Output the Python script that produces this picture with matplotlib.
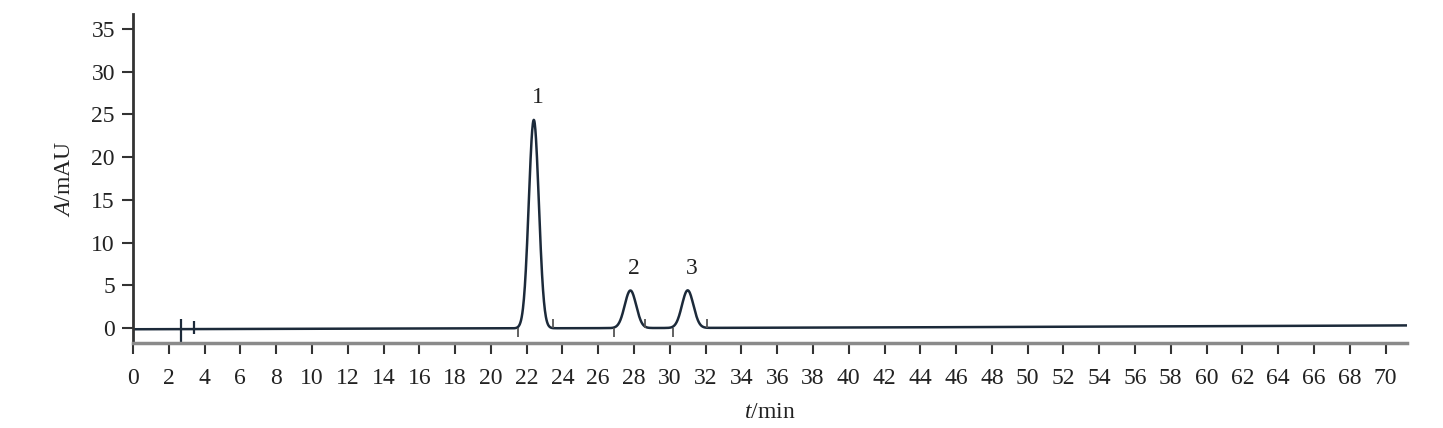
import numpy as np
import matplotlib
matplotlib.use("Agg")
import matplotlib.pyplot as plt

# ---- data ----
peak_labels = ["1", "2", "3"]
peak_times = [22.4, 27.8, 31.0]       # min
peak_heights = [24.4, 4.4, 4.4]       # mAU
peak_sigmas = [0.28, 0.32, 0.32]      # min
baseline_t = [0.0, 20.0, 40.0, 60.0, 71.2]
baseline_a = [-0.15, -0.05, 0.05, 0.2, 0.3]
mark_up_t = [23.5, 28.6, 32.1]        # integration end marks
mark_down_t = [21.5, 26.9, 30.2]      # integration start marks
xticks = list(range(0, 71, 2))
yticks = [0, 5, 10, 15, 20, 25, 30, 35]

plt.rcParams["font.family"] = ["Liberation Serif", "DejaVu Serif"]
plt.rcParams["mathtext.fontset"] = "custom"
plt.rcParams["mathtext.it"] = "Liberation Serif:italic"
plt.rcParams["mathtext.rm"] = "Liberation Serif"

FS = 17
W, H = 1443, 428
fig = plt.figure(figsize=(W / 100, H / 100), dpi=100)
ax = fig.add_axes([133 / W, 1 - 343 / H, (1407 - 133) / W, (343 - 14) / H])

t = np.linspace(0, 71.2, 4000)
a = np.interp(t, baseline_t, baseline_a)
for tr, h, s in zip(peak_times, peak_heights, peak_sigmas):
    a = a + h * np.exp(-0.5 * ((t - tr) / s) ** 2)
line_col = "#1c2a3a"
ax.plot(t, a, color=line_col, lw=1.8)

# solvent front spikes
ax.vlines([2.7], -1.8, 1.0, color=line_col, lw=1.6)
ax.vlines([3.4], -0.7, 0.8, color=line_col, lw=1.6)
# integration marks
ax.vlines(mark_up_t, 0.0, 1.0, color="#555555", lw=1.3)
ax.vlines(mark_down_t, -1.0, 0.0, color="#555555", lw=1.3)

for lab, tr, h in zip(peak_labels, peak_times, peak_heights):
    ax.text(tr + 0.2, h + 1.3, lab, ha="center", va="bottom", fontsize=FS, color="#222222")

ax.set_xlim(0, 71.2)
ax.set_ylim(-1.76, 36.76)
ax.set_xticks(xticks)
ax.set_yticks(yticks)
ax.tick_params(axis="both", direction="out", length=8, width=1.5, labelsize=FS,
               colors="#333333", labelcolor="#222222", pad=5)
ax.tick_params(axis="x", pad=10)
ax.spines["top"].set_visible(False)
ax.spines["right"].set_visible(False)
ax.spines["left"].set_color("#333333")
ax.spines["left"].set_linewidth(2)
ax.spines["bottom"].set_color("#8a8a8a")
ax.spines["bottom"].set_linewidth(2.5)

ax.set_ylabel(r"$\mathit{A}$/mAU", fontsize=FS, color="#222222", labelpad=12)
ax.set_xlabel(r"$\mathit{t}$/min", fontsize=FS, color="#222222", labelpad=9)

fig.savefig("out.png", dpi=100)
